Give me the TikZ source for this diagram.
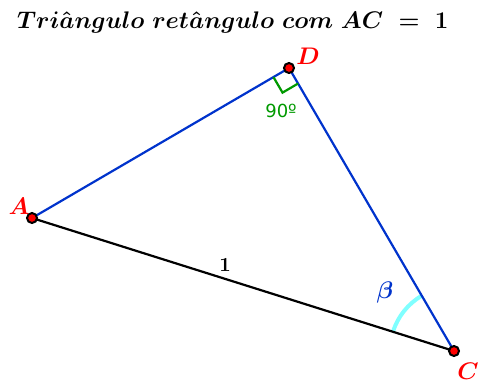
\documentclass[tikz,border=0pt]{standalone}
\usepackage{fontspec}
\newfontfamily\labelsf{DejaVu Sans}
\usetikzlibrary{calc, angles}
\definecolor{sideblue}{RGB}{0,51,204}
\definecolor{arccyan}{RGB}{128,255,255}
\definecolor{markgreen}{RGB}{0,153,0}

\begin{document}
\begin{tikzpicture}[x=0.5pt, y=-0.5pt,
        vertex/.style={circle, draw=black, fill=red, line width=1pt, inner sep=0pt, minimum size=5pt},
        ptlabel/.style={text=red, font=\boldmath\large},
        side/.style={line width=1.1pt, line cap=round}]

      % 1. Bounding box (reference margins)
      \useasboundingbox (0,0) rectangle (480,381);

      % 2. Title
      \node[anchor=west, font=\boldmath\large] (title) at (10,22) {$Tri\hat{a}ngulo\ ret\hat{a}ngulo\ com\ AC\;=\;1$};

      % 3. Vertices
      \coordinate (A) at (32,218);
      \coordinate (D) at (289,68);
      \coordinate (C) at (454,351);

      % 4. Angle beta at C
      \pic[draw=arccyan, line width=2pt, angle radius=32pt] {angle=D--C--A};
      \node[text=sideblue, font=\boldmath\large] (beta) at (385,292) {$\beta$};

      % 5. Sides
      \draw [side, color=sideblue] (A) -- (D);
      \draw [side, color=sideblue] (D) -- (C);
      \draw [side, color=black] (A) -- (C);
      \node[font=\boldmath] (len) at (225,265) {$1$};

      % 6. Right angle at D
      \draw [markgreen, line width=1.1pt]
        ($(D)!9pt!(A)$) -- ($(D)!9pt!(A)!9pt!90:(A)$) -- ($(D)!9pt!(C)$);
      \node[text=markgreen, font=\labelsf\small] (right) at (281,111) {90º};

      % 7. Points and labels
      \node [vertex] (pA) at (A) {};
      \node [vertex] (pD) at (D) {};
      \node [vertex] (pC) at (C) {};
      \node [ptlabel] (lA) at (19,206) {$A$};
      \node [ptlabel] (lD) at (308,56) {$D$};
      \node [ptlabel] (lC) at (468,371) {$C$};
    \end{tikzpicture}
\end{document}
